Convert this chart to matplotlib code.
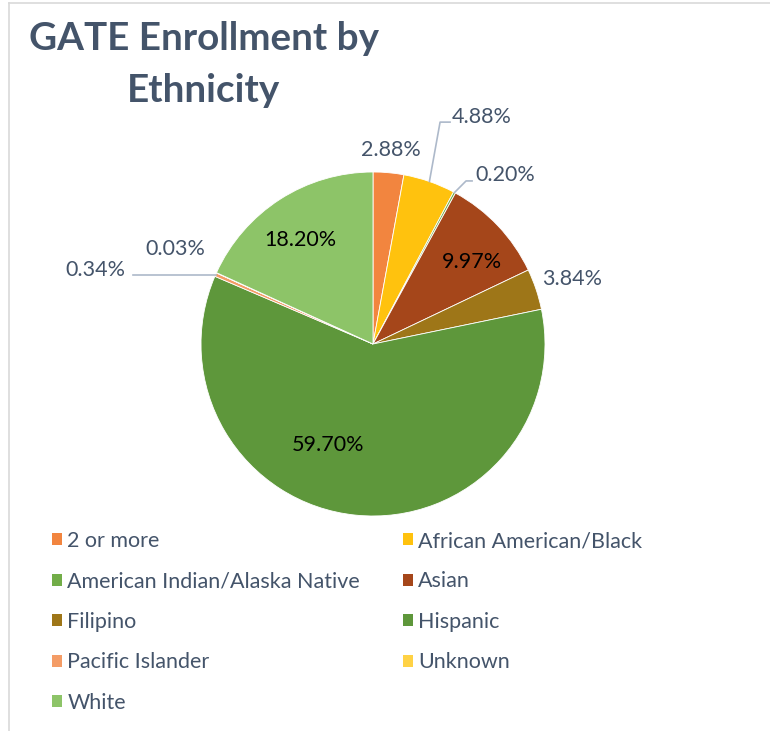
import numpy as np
import matplotlib
matplotlib.use("Agg")
import matplotlib.pyplot as plt
from matplotlib.lines import Line2D

plt.rcParams['font.family'] = ['Lato', 'DejaVu Sans']

groups = ["2 or more", "African American/Black", "American Indian/Alaska Native",
          "Asian", "Filipino", "Hispanic", "Pacific Islander", "Unknown", "White"]
shares = [2.88, 4.88, 0.20, 9.97, 3.84, 59.70, 0.34, 0.03, 18.20]
colors = ["#F2853F", "#FFC20E", "#72AD48", "#A5461A", "#9E7618",
          "#5E973B", "#F49C66", "#FFD245", "#8DC468"]
labels = ["%.2f%%" % s for s in shares]

TXT = "#44546A"
LEAD = "#ADB9CA"
FS = 15.5

fig = plt.figure(figsize=(7.7, 7.31), dpi=100)
ax = fig.add_axes([0, 0, 1, 1])

wedges, _ = ax.pie(shares, colors=colors, startangle=90, counterclock=False,
                   radius=1.0, wedgeprops=dict(edgecolor="white", linewidth=0.6))
ax.set_aspect('auto')
# 1 data unit = pie radius (172 px), centre at (373, 344) px from top-left
ax.set_xlim(-373 / 172, (770 - 373) / 172)
ax.set_ylim((344 - 731) / 172, 344 / 172)
ax.axis('off')

def edge(w, r=1.0):
    a = np.deg2rad((w.theta1 + w.theta2) / 2)
    return r * np.cos(a), r * np.sin(a)

# inside labels
ax.text(0.575, 0.477, labels[3], ha='center', va='center', fontsize=FS, color='black')
ax.text(-0.26, -0.59, labels[5], ha='center', va='center', fontsize=FS, color='black')
ax.text(-0.424, 0.605, labels[8], ha='center', va='center', fontsize=FS, color='black')

# outside labels
x, y = edge(wedges[0], 1.13)
ax.text(x, y, labels[0], ha='center', va='center', fontsize=FS, color=TXT)
x, y = edge(wedges[4], 1.19)
ax.text(x + 0.03, y, labels[4], ha='center', va='center', fontsize=FS, color=TXT)

# leader lines
x0, y0 = edge(wedges[1])
ax.plot([x0, 0.39, 0.448], [y0, 1.29, 1.29], color=LEAD, lw=1.2)
ax.text(0.459, 1.32, labels[1], ha='left', va='center', fontsize=FS, color=TXT)

x0, y0 = edge(wedges[2])
ax.plot([x0, 0.541, 0.576], [y0, 0.948, 0.948], color=LEAD, lw=1.2)
ax.text(0.593, 0.983, labels[2], ha='left', va='center', fontsize=FS, color=TXT)

x0, y0 = edge(wedges[6])
ax.plot([x0, -1.395], [y0, y0], color=LEAD, lw=1.2)
ax.text(-1.44, 0.43, labels[6], ha='right', va='center', fontsize=FS, color=TXT)
ax.text(-1.151, 0.552, labels[7], ha='center', va='center', fontsize=FS, color=TXT)

# title
fig.text(204 / 770, 1 - 38 / 731, "GATE Enrollment by", ha='center', va='center',
         fontsize=27.8, fontweight='bold', color=TXT)
fig.text(204 / 770, 1 - 90 / 731, "Ethnicity", ha='center', va='center',
         fontsize=27.8, fontweight='bold', color=TXT)

# legend (row-wise order in 2 columns)
order = [0, 2, 4, 6, 8, 1, 3, 5, 7]
leg = fig.legend([wedges[i] for i in order], [groups[i] for i in order],
                 ncol=2, loc='upper left', bbox_to_anchor=(52 / 770, 1 - 531 / 731),
                 frameon=False, fontsize=FS, handlelength=0.47, handleheight=0.47,
                 handletextpad=0.25, labelspacing=0.95, columnspacing=1.97,
                 borderaxespad=0, borderpad=0)
for t in leg.get_texts():
    t.set_color(TXT)
for h in leg.legend_handles:
    h.set_edgecolor('none')

# chart frame
fig.add_artist(Line2D([9 / 770, 1], [1 - 3 / 731, 1 - 3 / 731], color="#D9D9D9", lw=1.2))
fig.add_artist(Line2D([9 / 770, 9 / 770], [0, 1 - 3 / 731], color="#D9D9D9", lw=1.2))

fig.savefig("out.png", dpi=100)
